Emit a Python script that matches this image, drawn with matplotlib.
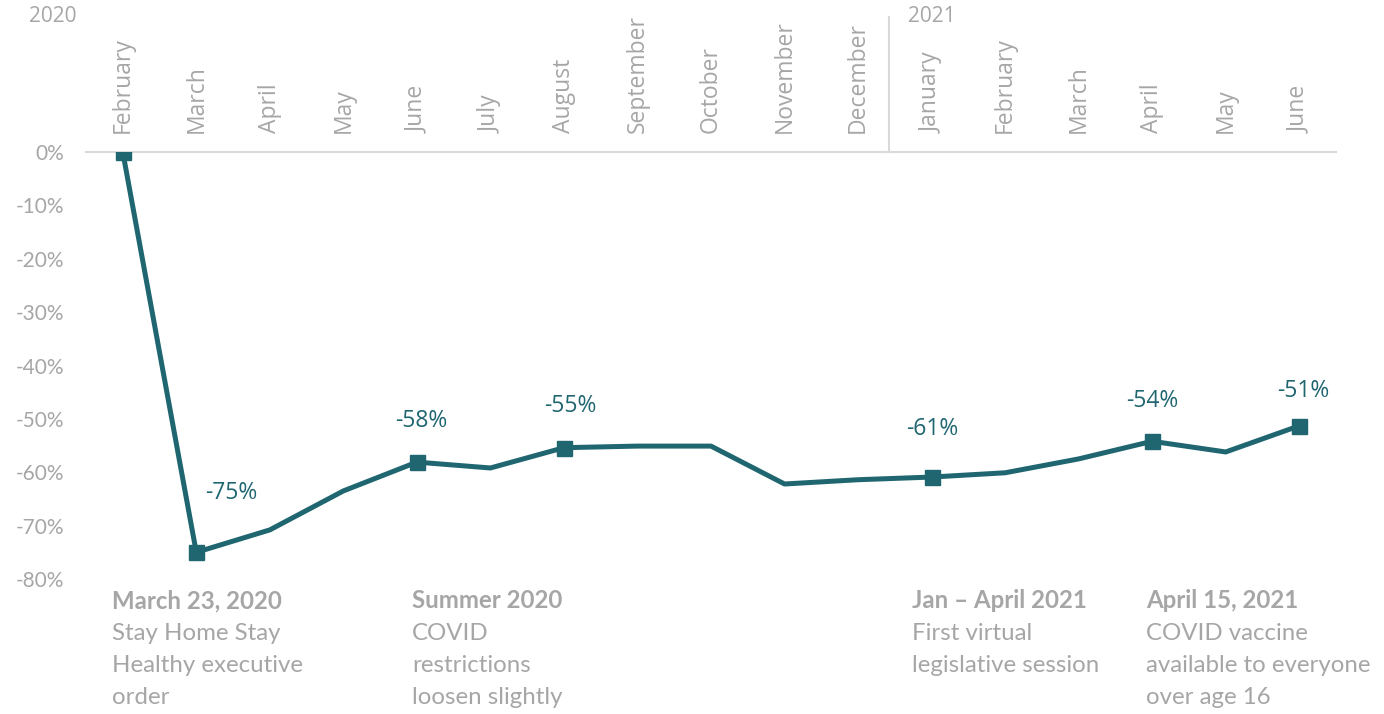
import matplotlib.pyplot as plt

# Monthly change vs. February 2020
months = ['February', 'March', 'April', 'May', 'June', 'July', 'August',
          'September', 'October', 'November', 'December',
          'January', 'February', 'March', 'April', 'May', 'June']
change = [0, -75, -70.8, -63.5, -58.1, -59.2, -55.4, -55.1, -55.1,
          -62.2, -61.4, -60.9, -60.1, -57.5, -54.2, -56.2, -51.3]
marker_idx = [0, 1, 4, 6, 11, 14, 16]
label_idx = [1, 4, 6, 11, 14, 16]
label_text = ['-75%', '-58%', '-55%', '-61%', '-54%', '-51%']
yticks = [0, -10, -20, -30, -40, -50, -60, -70, -80]

event_titles = ['March 23, 2020', 'Summer 2020', 'Jan \u2013 April 2021', 'April 15, 2021']
event_bodies = ['Stay Home Stay\nHealthy executive\norder',
                'COVID\nrestrictions\nloosen slightly',
                'First virtual\nlegislative session',
                'COVID vaccine\navailable to everyone\nover age 16']

teal = '#1F6670'
gray = '#A6A6A6'

W, H = 1384, 714
fig = plt.figure(figsize=(W / 100, H / 100), dpi=100)
ax = fig.add_axes([86 / W, 1 - 579 / H, 1250 / W, 427 / H])

x = list(range(len(months)))
ax.plot(x, change, color=teal, lw=3.6, zorder=3, solid_joinstyle='round')
ax.plot([x[i] for i in marker_idx], [change[i] for i in marker_idx], 's',
        color=teal, ms=10.8, zorder=4)

# label offsets in pixels (dx, dy)
label_off = [(35, 59), (4, 41), (6, 42), (1, 48), (0, 40), (4, 35)]
for i, t, (dx, dy) in zip(label_idx, label_text, label_off):
    ax.annotate(t, (i, change[i]), xytext=(dx, dy), textcoords='offset pixels',
                color=teal, fontsize=16.5, family='Open Sans',
                ha='center', va='center')

ax.set_xlim(-0.5, 16.5)
ax.set_ylim(-80, 0)
ax.set_yticks(yticks)
ax.set_yticklabels([f'{v}%' for v in yticks], color=gray, fontsize=15, family='Lato')
ax.tick_params(axis='y', length=0, pad=16)
ax.set_xticks([])
for s in ['left', 'right', 'bottom']:
    ax.spines[s].set_visible(False)
ax.spines['top'].set_color('#D9D9D9')
ax.spines['top'].set_linewidth(1.5)

# month labels above the axis
for i, m in enumerate(months):
    ax.annotate(m, (i, 0), xytext=(0, 19), textcoords='offset pixels',
                rotation=90, ha='center', va='bottom', color=gray,
                fontsize=16.5, family='Open Sans', annotation_clip=False)

# year separator
ax.plot([10.42, 10.42], [0, 25.3], color='#D9D9D9', lw=1.5, clip_on=False)
fig.text(53 / W, 1 - 16 / H, '2020', color=gray, fontsize=15, family='Open Sans',
         ha='center', va='center')
fig.text(932 / W, 1 - 16 / H, '2021', color=gray, fontsize=15, family='Open Sans',
         ha='center', va='center')

# event notes below the chart
event_x = [112, 412, 912, 1146]
for xp, title, body in zip(event_x, event_titles, event_bodies):
    fig.text(xp / W, 1 - 601 / H, title, color=gray, fontsize=17.3, family='Lato',
             weight='bold', ha='left', va='center')
    for k, line in enumerate(body.split('\n')):
        fig.text(xp / W, 1 - (633 + 32 * k) / H, line, color=gray, fontsize=17.3,
                 family='Lato', ha='left', va='center')

fig.savefig('out.png', dpi=100)
